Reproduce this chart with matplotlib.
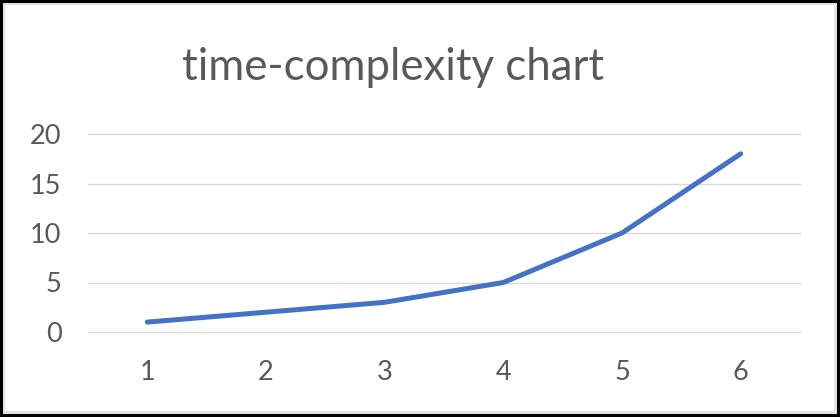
import matplotlib
matplotlib.use("Agg")
import matplotlib.pyplot as plt
from matplotlib.patches import Rectangle

categories = [1, 2, 3, 4, 5, 6]
values = [1, 2, 3, 5, 10, 18]
y_ticks = [0, 5, 10, 15, 20]

text_color = "#595959"
line_color = "#4472C4"
grid_color = "#D9D9D9"

plt.rcParams["font.family"] = ["Lato", "DejaVu Sans"]

W, H = 840, 417


def px_rect(x0, y0, x1, y1, color):
    """Rectangle given in pixel coordinates measured from the top-left corner."""
    return Rectangle((x0 / W, 1 - y1 / H), (x1 - x0) / W, (y1 - y0) / H,
                     transform=fig.transFigure, facecolor=color,
                     edgecolor="none", zorder=-10)


fig = plt.figure(figsize=(W / 100, H / 100), dpi=100, facecolor="black")
# framed chart area: black edge, light grey inner edge, white fill
fig.patches.append(px_rect(3, 3, 837, 414, "#E3E3E3"))
fig.patches.append(px_rect(5, 5, 834, 411, "white"))

ax = fig.add_axes([88 / W, 1 - 332 / H, (800 - 88) / W, (332 - 134) / H])
ax.set_facecolor("none")

for t in y_ticks:
    ax.axhline(t, color=grid_color, lw=1, clip_on=False, zorder=1)

ax.plot(categories, values, color=line_color, lw=3.6, solid_capstyle="round",
        solid_joinstyle="round", zorder=3)

ax.set_xlim(0.5, 6.5)
ax.set_ylim(0, 20)
ax.set_xticks(categories)
ax.set_yticks(y_ticks)
ax.set_xticklabels([str(c) for c in categories])
ax.set_yticklabels([str(t) for t in y_ticks])
ax.tick_params(axis="both", length=0, colors=text_color, labelsize=19.5)
ax.tick_params(axis="y", pad=19)
ax.tick_params(axis="x", pad=20.5)
for s in ax.spines.values():
    s.set_visible(False)

fig.text(393 / W, 1 - 67 / H, "time-complexity chart", ha="center", va="center",
         fontsize=31.5, color=text_color)

fig.savefig("out.png", dpi=100, facecolor="black")
